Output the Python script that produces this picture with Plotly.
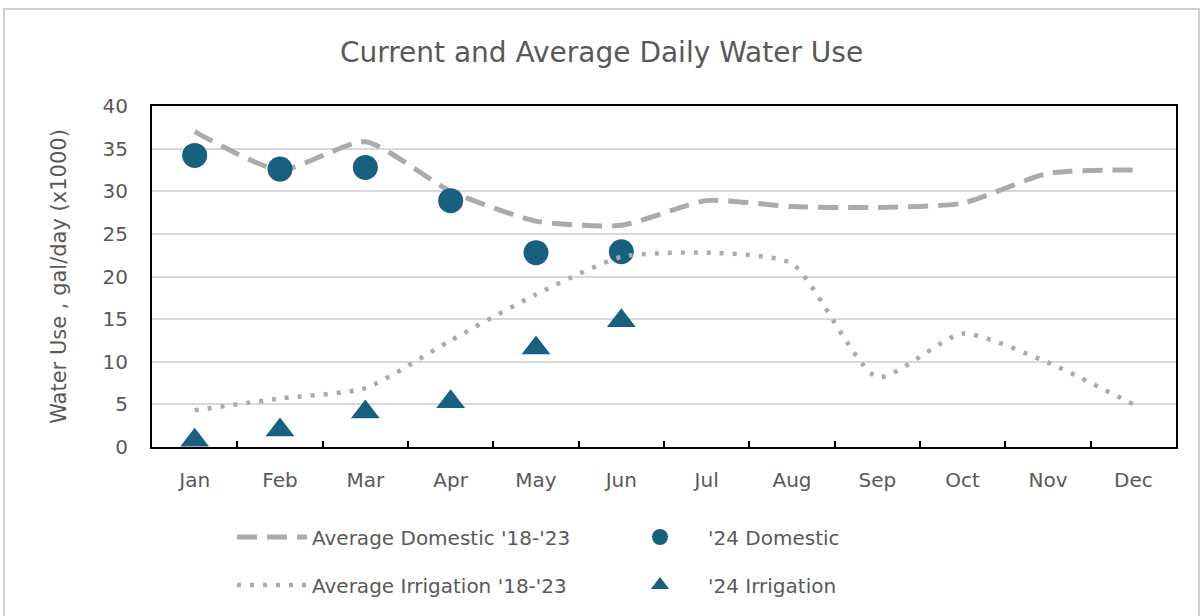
import plotly.graph_objects as go

months = ["Jan", "Feb", "Mar", "Apr", "May", "Jun", "Jul", "Aug", "Sep", "Oct", "Nov", "Dec"]
avg_domestic = [37.0, 32.5, 35.8, 30.0, 26.5, 26.0, 28.9, 28.2, 28.1, 28.6, 32.1, 32.5]
avg_irrigation = [4.3, 5.7, 6.9, 12.5, 17.9, 22.3, 22.8, 21.5, 8.2, 13.3, 9.9, 5.0]
months_2024 = ["Jan", "Feb", "Mar", "Apr", "May", "Jun"]
dom_2024 = [34.2, 32.6, 32.8, 28.9, 22.8, 22.9]
irr_2024 = [0.8, 2.0, 4.1, 5.3, 11.6, 14.8]
y_ticks = [0, 5, 10, 15, 20, 25, 30, 35, 40]

GRAY = "#ababab"
BLUE = "#17607f"
TEXT = "#595959"
FONT = "DejaVu Sans"

fig = go.Figure()
fig.add_trace(go.Scatter(x=months, y=avg_domestic, mode="lines", name="Average Domestic '18-'23",
                         legend="legend",
                         line=dict(color=GRAY, width=5, dash="20px,10px", shape="spline", smoothing=0.6)))
fig.add_trace(go.Scatter(x=months_2024, y=dom_2024, mode="markers", name="'24 Domestic",
                         legend="legend2",
                         marker=dict(color=BLUE, size=25, symbol="circle")))
fig.add_trace(go.Scatter(x=months, y=avg_irrigation, mode="lines", name="Average Irrigation '18-'23",
                         legend="legend3",
                         line=dict(color=GRAY, width=4.5, dash="4px,9px", shape="spline", smoothing=0.6)))
fig.add_trace(go.Scatter(x=months_2024, y=irr_2024, mode="markers", name="'24 Irrigation",
                         legend="legend4",
                         marker=dict(color=BLUE, size=25, symbol="triangle-up")))

W, H = 1203, 616
L, R, T, B = 152, 27, 106, 169
pw, ph = W - L - R, H - T - B

def px(x):
    return (x - L) / pw

def py(y):
    return (H - B - y) / ph

def leg(x, y, iw):
    return dict(orientation="h", x=px(x), xanchor="left", y=py(y), yanchor="middle",
                font=dict(size=20, color=TEXT, family=FONT), itemwidth=iw,
                bgcolor="rgba(0,0,0,0)", borderwidth=0, itemsizing="trace")

fig.update_layout(
    width=W, height=H,
    margin=dict(l=L, r=R, t=T, b=B),
    paper_bgcolor="white", plot_bgcolor="white",
    font=dict(family=FONT, color=TEXT, size=19),
    title=dict(text="Current and Average Daily Water Use", x=0.5, xanchor="center",
               y=1 - 52 / H, yanchor="middle", font=dict(size=28, color=TEXT, family=FONT)),
    showlegend=True,
    legend=leg(232, 537, 70),
    legend2=leg(612, 537, 86),
    legend3=leg(232, 585, 70),
    legend4=leg(612, 585, 86),
    shapes=[dict(type="rect", xref="paper", yref="paper", x0=px(4), x1=px(1199), y0=py(9), y1=py(700),
                 line=dict(color="#d0d0d0", width=2), fillcolor="rgba(0,0,0,0)", layer="below")],
)
fig.update_xaxes(type="category", categoryorder="array", categoryarray=months, range=[-0.5, 11.5],
                 showline=True, linecolor="black", linewidth=2, mirror=True,
                 ticks="inside", tickson="boundaries", ticklen=6, tickcolor="black", tickwidth=2,
                 showgrid=False, ticklabelstandoff=14, tickfont=dict(size=20, color=TEXT))
fig.update_yaxes(range=[0, 40], tickvals=y_ticks, showline=True, linecolor="black", linewidth=2, mirror=True,
                 showgrid=True, gridcolor="#d9d9d9", gridwidth=2, ticks="", zeroline=False,
                 ticklabelstandoff=18, tickfont=dict(size=20, color=TEXT),
                 title=dict(text="Water Use , gal/day (x1000)", font=dict(size=21, color=TEXT), standoff=30))

fig.write_html("out.html", config={"displayModeBar": False},
               post_script="document.body.style.margin='0';")
